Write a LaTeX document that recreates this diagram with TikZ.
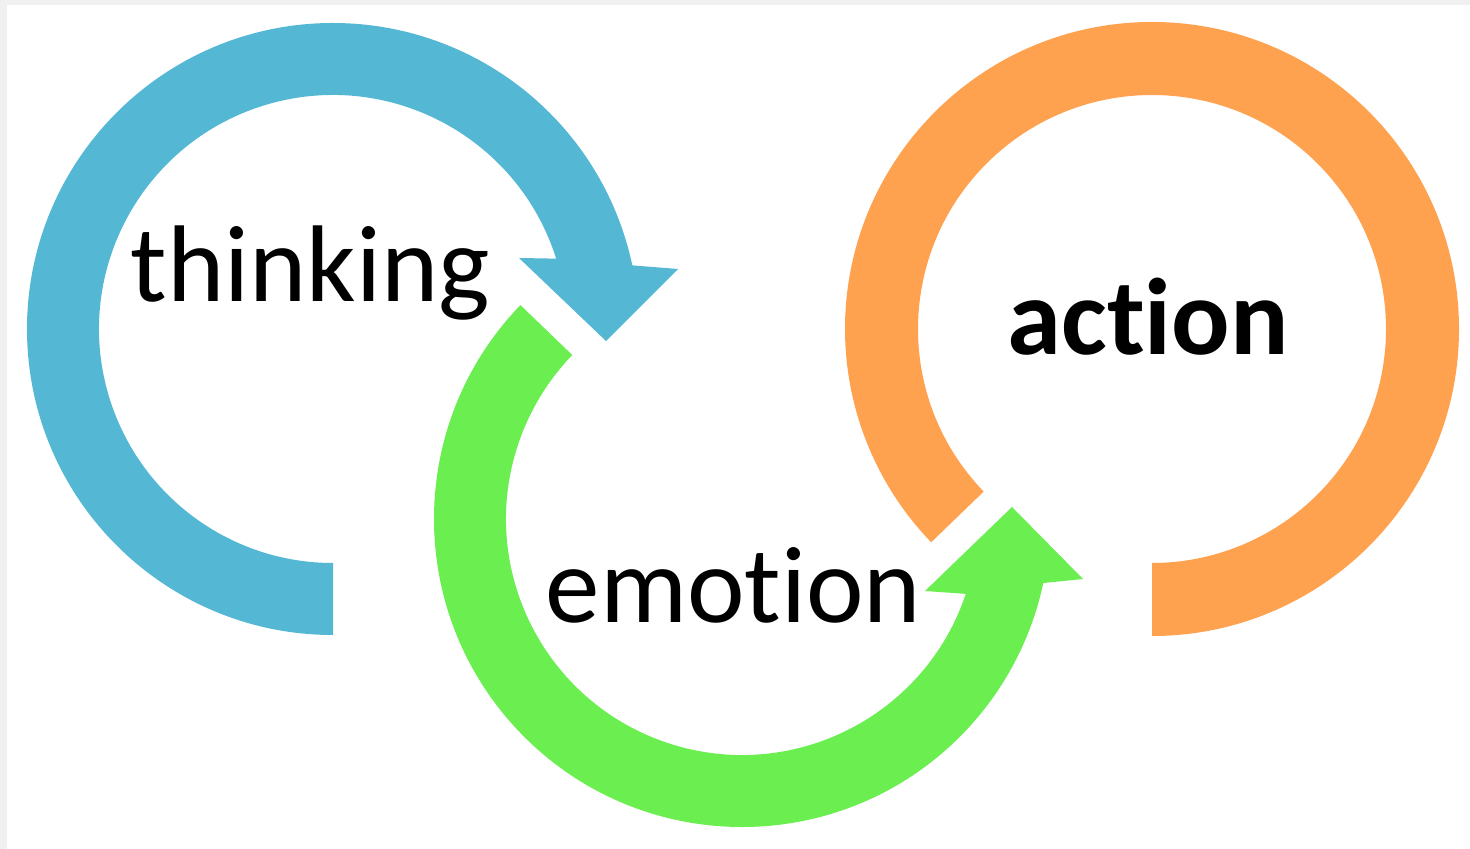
\documentclass[tikz,border=0pt]{standalone}
\usepackage{fontspec}
\setmainfont{Carlito}[Ligatures=NoCommon]
\usetikzlibrary{positioning}
\definecolor{thinkblue}{RGB}{84,183,211}
\definecolor{emogreen}{RGB}{106,238,80}
\definecolor{actorange}{RGB}{255,162,80}
\newcommand{\bigsize}{\fontsize{31}{36}\selectfont}
\tikzset{%
    % words inside the rings
    word/.style     = {anchor=base west, inner sep=0pt, font=\bigsize},
    boldword/.style = {word, font=\bigsize\bfseries},
    % screen edge
    edge/.style     = {gray!12}
}
\begin{document}
\begin{tikzpicture}[x=0.01cm, y=0.01cm]
	\useasboundingbox (0,0) rectangle (1470,-849);
	\fill[white] (0,0) rectangle (1470,-849);
	\fill[edge] (0,0) rectangle (1470,-5);
	\fill[edge] (0,0) rectangle (7,-849);

	\coordinate (T) at (333,-329);
	\coordinate (E) at (742,-519);
	\coordinate (A) at (1152,-329);

	% thinking arrow
	\fill[thinkblue, shift={(T)}] (270:306) arc[start angle=270, end angle=12, radius=306]
		-- (345,60) -- (273,-12) -- (186,71) -- (17.5:234)
		arc[start angle=17.5, end angle=270, radius=234] -- cycle;
	% emotion arrow
	\fill[emogreen, shift={(E)}] (136:308) arc[start angle=136, end angle=348, radius=308]
		-- (341,-60) -- (270,12) -- (183,-72) -- (341.5:236)
		arc[start angle=341.5, end angle=136, radius=236] -- cycle;
	% action ring
	\fill[actorange, shift={(A)}] (-90:307) arc[start angle=-90, end angle=224, radius=307]
		-- (224:234) arc[start angle=224, end angle=-90, radius=234] -- cycle;

	\node[word] (think) at (130,-302) {thinking};
	\node[word] (emo) at (545,-622) {emotion};
	\node[boldword] (act) at (1007,-355) {action};
\end{tikzpicture}
\end{document}
